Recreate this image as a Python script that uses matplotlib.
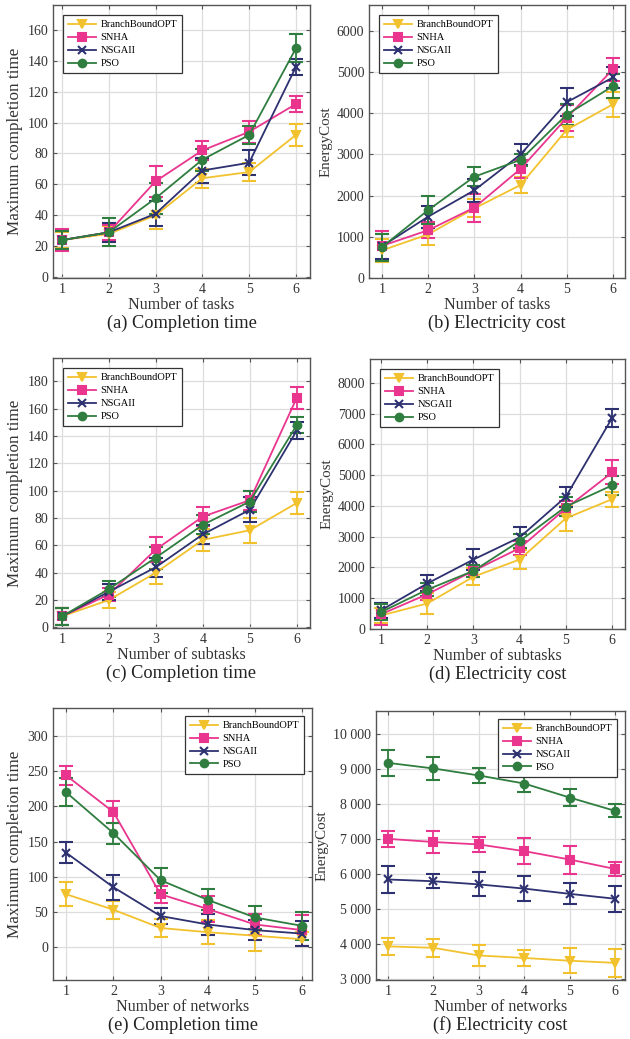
import numpy as np
import matplotlib
matplotlib.use('Agg')
import matplotlib.pyplot as plt
from matplotlib.lines import Line2D
from matplotlib.ticker import FuncFormatter

plt.rcParams['font.family'] = ['Liberation Serif', 'DejaVu Serif']

# ---------------------------------------------------------------- data
x = [1, 2, 3, 4, 5, 6]
methods = ['BranchBoundOPT', 'SNHA', 'NSGAII', 'PSO']

# (a) completion time vs number of tasks
a_mean = {
    'BranchBoundOPT': [24, 28, 40, 64, 68, 92],
    'SNHA': [24, 29, 62, 82, 94, 112],
    'NSGAII': [24, 29, 41, 69, 74, 136],
    'PSO': [24, 29, 51, 76, 92, 148],
}
a_err = {
    'BranchBoundOPT': [5, 5, 9, 6, 6, 7],
    'SNHA': [7, 5, 10, 6, 7, 5],
    'NSGAII': [6, 6, 8, 8, 8, 5],
    'PSO': [6, 9, 10, 7, 6, 9],
}
# (b) energy cost vs number of tasks
b_mean = {
    'BranchBoundOPT': [670, 1060, 1690, 2260, 3600, 4220],
    'SNHA': [780, 1160, 1710, 2650, 3890, 5070],
    'NSGAII': [770, 1490, 2130, 3000, 4270, 4870],
    'PSO': [750, 1650, 2460, 2870, 3970, 4660],
}
b_err = {
    'BranchBoundOPT': [280, 250, 220, 200, 180, 300],
    'SNHA': [350, 200, 340, 220, 320, 280],
    'NSGAII': [300, 270, 280, 250, 340, 260],
    'PSO': [330, 350, 230, 150, 250, 300],
}
# (c) completion time vs number of subtasks
c_mean = {
    'BranchBoundOPT': [8, 20, 40, 64, 71, 91],
    'SNHA': [8, 24, 57, 81, 93, 168],
    'NSGAII': [8, 26, 44, 68, 86, 144],
    'PSO': [8, 28, 51, 75, 92, 148],
}
c_err = {
    'BranchBoundOPT': [6, 6, 8, 8, 9, 8],
    'SNHA': [6, 5, 9, 7, 7, 8],
    'NSGAII': [6, 6, 7, 7, 9, 6],
    'PSO': [6, 6, 8, 7, 8, 6],
}
# (d) energy cost vs number of subtasks
d_mean = {
    'BranchBoundOPT': [440, 830, 1700, 2260, 3600, 4220],
    'SNHA': [480, 1130, 1890, 2630, 3920, 5090],
    'NSGAII': [610, 1480, 2260, 2980, 4300, 6860],
    'PSO': [550, 1280, 1890, 2860, 3980, 4670],
}
d_err = {
    'BranchBoundOPT': [250, 330, 270, 300, 400, 250],
    'SNHA': [350, 200, 200, 230, 250, 390],
    'NSGAII': [250, 260, 330, 330, 330, 280],
    'PSO': [270, 200, 200, 220, 300, 300],
}
# (e) completion time vs number of networks
e_mean = {
    'BranchBoundOPT': [75, 53, 27, 21, 16, 11],
    'SNHA': [244, 192, 75, 54, 32, 24],
    'NSGAII': [134, 85, 44, 32, 24, 19],
    'PSO': [220, 162, 95, 67, 42, 30],
}
e_err = {
    'BranchBoundOPT': [17, 13, 13, 17, 22, 10],
    'SNHA': [14, 15, 12, 18, 15, 22],
    'NSGAII': [15, 18, 12, 15, 14, 18],
    'PSO': [20, 15, 18, 15, 16, 20],
}
# (f) energy cost vs number of networks
f_mean = {
    'BranchBoundOPT': [3930, 3890, 3670, 3600, 3520, 3460],
    'SNHA': [7000, 6910, 6840, 6650, 6410, 6140],
    'NSGAII': [5840, 5790, 5700, 5580, 5430, 5290],
    'PSO': [9170, 9010, 8810, 8580, 8180, 7800],
}
f_err = {
    'BranchBoundOPT': [250, 250, 290, 240, 360, 400],
    'SNHA': [220, 310, 220, 360, 400, 210],
    'NSGAII': [380, 200, 340, 350, 300, 370],
    'PSO': [380, 330, 220, 240, 240, 190],
}

colors = {'BranchBoundOPT': '#F2C22E', 'SNHA': '#E9358E',
          'NSGAII': '#2D3170', 'PSO': '#2F7D3F'}
markers = {'BranchBoundOPT': 'v', 'SNHA': 's', 'NSGAII': 'x', 'PSO': 'o'}

W, H = 630, 1039
fig = plt.figure(figsize=(W / 100, H / 100), dpi=100)


def add_ax(l, r, t, b):
    return fig.add_axes([l / W, 1 - b / H, (r - l) / W, (b - t) / H])


panels = [
    # box (px), data, xlabel, ylabel, caption, xlim, ylim, yticks, legend loc
    ((53, 310, 5, 278), a_mean, a_err, 'Number of tasks', 'Maximum completion time',
     '(a) Completion time', (0.81, 6.3), (-0.5, 176), np.arange(0, 161, 20), 'upper left'),
    ((369, 625, 5, 278), b_mean, b_err, 'Number of tasks', 'EnergyCost',
     '(b) Electricity cost', (0.72, 6.26), (0, 6630), np.arange(0, 6001, 1000), 'upper left'),
    ((53, 310, 358, 628), c_mean, c_err, 'Number of subtasks', 'Maximum completion time',
     '(c) Completion time', (0.81, 6.28), (-0.5, 197), np.arange(0, 181, 20), 'upper left'),
    ((370, 625, 359, 629), d_mean, d_err, 'Number of subtasks', 'EnergyCost',
     '(d) Electricity cost', (0.76, 6.28), (0, 8780), np.arange(0, 8001, 1000), 'upper left'),
    ((53, 312, 708, 980), e_mean, e_err, 'Number of networks', 'Maximum completion time',
     '(e) Completion time', (0.72, 6.21), (-47, 340), np.arange(0, 301, 50), 'upper right'),
    ((376, 625, 711, 980), f_mean, f_err, 'Number of networks', 'EnergyCost',
     '(f) Electricity cost', (0.74, 6.22), (2970, 10650), np.arange(3000, 10001, 1000), 'upper right'),
]

for i, (box, mean, err, xl, yl, cap, xlim, ylim, yticks, loc) in enumerate(panels):
    ax = add_ax(*box)
    for m in methods:
        ax.errorbar(x, mean[m], yerr=err[m], color=colors[m], marker=markers[m],
                    markersize=5.5, markeredgewidth=1.5, linewidth=1.3,
                    elinewidth=1.3, capsize=5, capthick=1.3)
    ax.set_xlim(*xlim)
    ax.set_ylim(*ylim)
    ax.set_xticks(x)
    ax.set_yticks(yticks)
    if ylim[1] > 10000:
        ax.yaxis.set_major_formatter(FuncFormatter(
            lambda v, p: f'{int(v):,}'.replace(',', ' ')))
    ax.grid(True, color='#dddddd', linewidth=0.9)
    ax.set_axisbelow(True)
    for s in ax.spines.values():
        s.set_color('#555555')
        s.set_linewidth(1.0)
    right = i % 2 == 1
    ax.tick_params(direction='in', length=3, width=0.8, colors='#555555',
                   labelcolor='#333333', labelsize=10, top=True, right=True)
    ax.set_xlabel(xl, fontsize=11.6, color='#333333', labelpad=1)
    ax.set_ylabel(yl, fontsize=10.8 if right else 12.3, color='#333333', labelpad=3)
    cx = (box[0] + box[1]) / 2
    fig.text(cx / W, 1 - (box[3] + 45) / H, cap, ha='center', va='center',
             fontsize=13.2, color='#222222')
    handles = [Line2D([], [], color=colors[m], marker=markers[m], markersize=5.5,
                      markeredgewidth=1.5, linewidth=1.3) for m in methods]
    leg = ax.legend(handles, methods, loc=loc, fontsize=7.5, handlelength=2.7,
                    fancybox=False, framealpha=1, edgecolor='#333333',
                    borderpad=0.45, labelspacing=0.35, handletextpad=0.4,
                    borderaxespad=1.0 if loc == 'upper left' else 0.8)
    leg.get_frame().set_linewidth(0.9)

fig.savefig('out.png', dpi=100)
